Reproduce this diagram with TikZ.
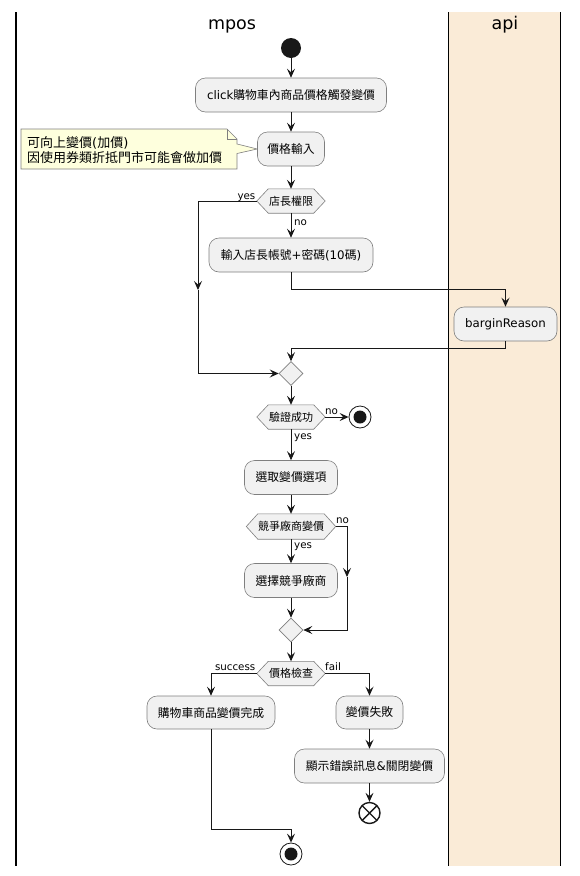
\documentclass[tikz,border=0pt]{standalone}
\usepackage{fontspec}
\setmainfont{DejaVu Sans}
\newfontfamily\cjk{Noto Sans CJK TC}
\usetikzlibrary{arrows.meta,shapes.geometric}
\newcommand\zht[1]{{\cjk #1}}
\pgfdeclarelayer{bg}
\pgfsetlayers{bg,main}
\definecolor{boxfill}{HTML}{F1F1F1}
\definecolor{boxdraw}{HTML}{7F7F7F}
\definecolor{linec}{HTML}{181818}
\definecolor{lanefill}{HTML}{FAEBD7}
\definecolor{notefill}{HTML}{FEFFDD}
\tikzset{
  act/.style={draw=boxdraw, fill=boxfill, rounded corners=10pt, line width=0.6pt,
    inner sep=0pt, font=\fontsize{11.8}{14}\selectfont, text=black},
  hexn/.style={inner sep=0pt, font=\fontsize{11}{12}\selectfont, text=black},
  hexsty/.style={draw=boxdraw, fill=boxfill, line width=0.6pt},
  merge/.style={diamond, draw=boxdraw, fill=boxfill, line width=0.6pt,
    minimum width=24pt, minimum height=24pt, inner sep=0pt},
  flow/.style={draw=linec, line width=0.9pt, -{Stealth[length=9pt,width=8pt,inset=3.5pt]}},
  lbl/.style={font=\fontsize{10.3}{12}\selectfont, inner sep=0pt, text=black},
  lanetitle/.style={font=\fontsize{17.5}{20}\selectfont, inner sep=0pt, text=black},
  lane/.style={draw=black, line width=1.4pt},
  notesty/.style={draw=boxdraw, fill=notefill, line width=0.6pt},
  startsty/.style={circle, fill=linec, minimum size=20pt, inner sep=0pt},
  stopsty/.style={circle, draw=linec, fill=white, line width=0.8pt, minimum size=22pt, inner sep=0pt,
    path picture={\fill[linec] (path picture bounding box.center) circle (6.5pt);}},
  xendsty/.style={circle, draw=linec, fill=white, line width=1.4pt, minimum size=21pt, inner sep=0pt,
    path picture={\draw[linec, line width=1.4pt] (path picture bounding box.north west) -- (path picture bounding box.south east)
      (path picture bounding box.north east) -- (path picture bounding box.south west);}}
}
\newcommand\drawhex[2]{%
  \begin{pgfonlayer}{bg}
  \draw[hexsty] (#1.west) -- ([xshift=#2]#1.north west) -- ([xshift=-#2]#1.north east) -- (#1.east)
    -- ([xshift=-#2]#1.south east) -- ([xshift=#2]#1.south west) -- cycle;
  \end{pgfonlayer}}
\begin{document}
\begin{tikzpicture}[x=1pt, y=-1pt]
\useasboundingbox (0,0) rectangle (579,876);
% lanes
\fill[lanefill] (449,12) rectangle (560.5,866);
\draw[lane] (16,12) -- (16,866);
\draw[lane] (448.5,12) -- (448.5,866);
\draw[lane] (560.5,12) -- (560.5,866);
\node[lanetitle, anchor=base] (tmpos) at (232,29) {mpos};
\node[lanetitle, anchor=base] (tapi) at (505,29) {api};

% nodes
\node[startsty] (start) at (291,48) {};
\node[act, minimum width=191pt, minimum height=34pt] (b1) at (291,95) {click\zht{購物車內商品價格觸發變價}};
\node[act, minimum width=67pt, minimum height=34pt] (b2) at (291,149) {\zht{價格輸入}};
\node[hexn, minimum width=68pt, minimum height=24pt] (h1) at (291,201) {\zht{店長權限}};
\drawhex{h1}{11.5}
\node[act, minimum width=164pt, minimum height=34pt] (b3) at (291,255) {\zht{輸入店長帳號}+\zht{密碼}(10\zht{碼})};
\node[act, minimum width=103pt, minimum height=34pt] (bargin) at (505.5,324) {barginReason};
\node[merge] (m1) at (291,373.5) {};
\node[hexn, minimum width=68pt, minimum height=24pt] (h2) at (291,417) {\zht{驗證成功}};
\drawhex{h2}{11.5}
\node[stopsty] (stop1) at (360,417) {};
\node[act, minimum width=93pt, minimum height=34pt] (b4) at (291,477.5) {\zht{選取變價選項}};
\node[hexn, minimum width=89pt, minimum height=25pt] (h3) at (291,526.5) {\zht{競爭廠商變價}};
\drawhex{h3}{11.5}
\node[act, minimum width=93pt, minimum height=34pt] (b5) at (291,580.5) {\zht{選擇競爭廠商}};
\node[merge] (m2) at (291,630) {};
\node[hexn, minimum width=68pt, minimum height=24pt] (h4) at (291,673.5) {\zht{價格檢查}};
\drawhex{h4}{11.5}
\node[act, minimum width=128pt, minimum height=33pt] (b6) at (211,712.5) {\zht{購物車商品變價完成}};
\node[act, minimum width=67pt, minimum height=33pt] (b7) at (369.5,712.5) {\zht{變價失敗}};
\node[act, minimum width=150pt, minimum height=34pt] (b8) at (369.5,766) {\zht{顯示錯誤訊息}\&\zht{關閉變價}};
\node[xendsty] (xend) at (369.5,813) {};
\node[stopsty] (endc) at (291,854) {};

% note
\begin{pgfonlayer}{bg}
\draw[notesty] (21,129) -- (227,129) -- (237,139) -- (237,144) -- (b2.west) -- (237,153.5) -- (237,169) -- (21,169) -- cycle;
\draw[notesty, fill=none] (227,129) -- (227,139) -- (237,139);
\end{pgfonlayer}
\node[anchor=west, align=left, font=\fontsize{13}{15}\selectfont, inner sep=0pt] (note) at (27,150)
  {\zht{可向上變價}(\zht{加價})\\\zht{因使用券類折抵門市可能會做加價}};

% coordinates for bends
\coordinate (ya) at (198,290);
\coordinate (na) at (347,577);

% connectors
\draw[flow] (start.south) -- (b1.north);
\draw[flow] (b1.south) -- (b2.north);
\draw[flow] (b2.south) -- (h1.north);
\draw[flow] (h1.west) -| (ya);
\draw[flow] (ya) |- (m1.west);
\draw[flow] (h1.south) -- (b3.north);
\draw[flow] (b3.south) -- ++(0,17) -| (bargin.north);
\draw[flow] (bargin.south) -- ++(0,7) -| (m1.north);
\draw[flow] (m1.south) -- (h2.north);
\draw[flow] (h2.east) -- (stop1.west);
\draw[flow] (h2.south) -- (b4.north);
\draw[flow] (b4.south) -- (h3.north);
\draw[flow] (h3.east) -| (na);
\draw[flow] (na) |- (m2.east);
\draw[flow] (h3.south) -- (b5.north);
\draw[flow] (b5.south) -- (m2.north);
\draw[flow] (m2.south) -- (h4.north);
\draw[flow] (h4.west) -| (b6.north);
\draw[flow] (h4.east) -| (b7.north);
\draw[flow] (b7.south) -- (b8.north);
\draw[flow] (b8.south) -- (xend.north);
\draw[flow] (b6.south) -- ++(0,100) -| (endc.north);

% labels
\node[lbl, anchor=base east] (l1) at (255.5,199) {yes};
\node[lbl, anchor=base west] (l2) at (294,225) {no};
\node[lbl, anchor=base west] (l3) at (325,414.5) {no};
\node[lbl, anchor=base west] (l4) at (294,439) {yes};
\node[lbl, anchor=base west] (l5) at (336,523.5) {no};
\node[lbl, anchor=base west] (l6) at (294,548) {yes};
\node[lbl, anchor=base east] (l7) at (255.5,670.5) {success};
\node[lbl, anchor=base west] (l8) at (325,670.5) {fail};
\end{tikzpicture}
\end{document}
